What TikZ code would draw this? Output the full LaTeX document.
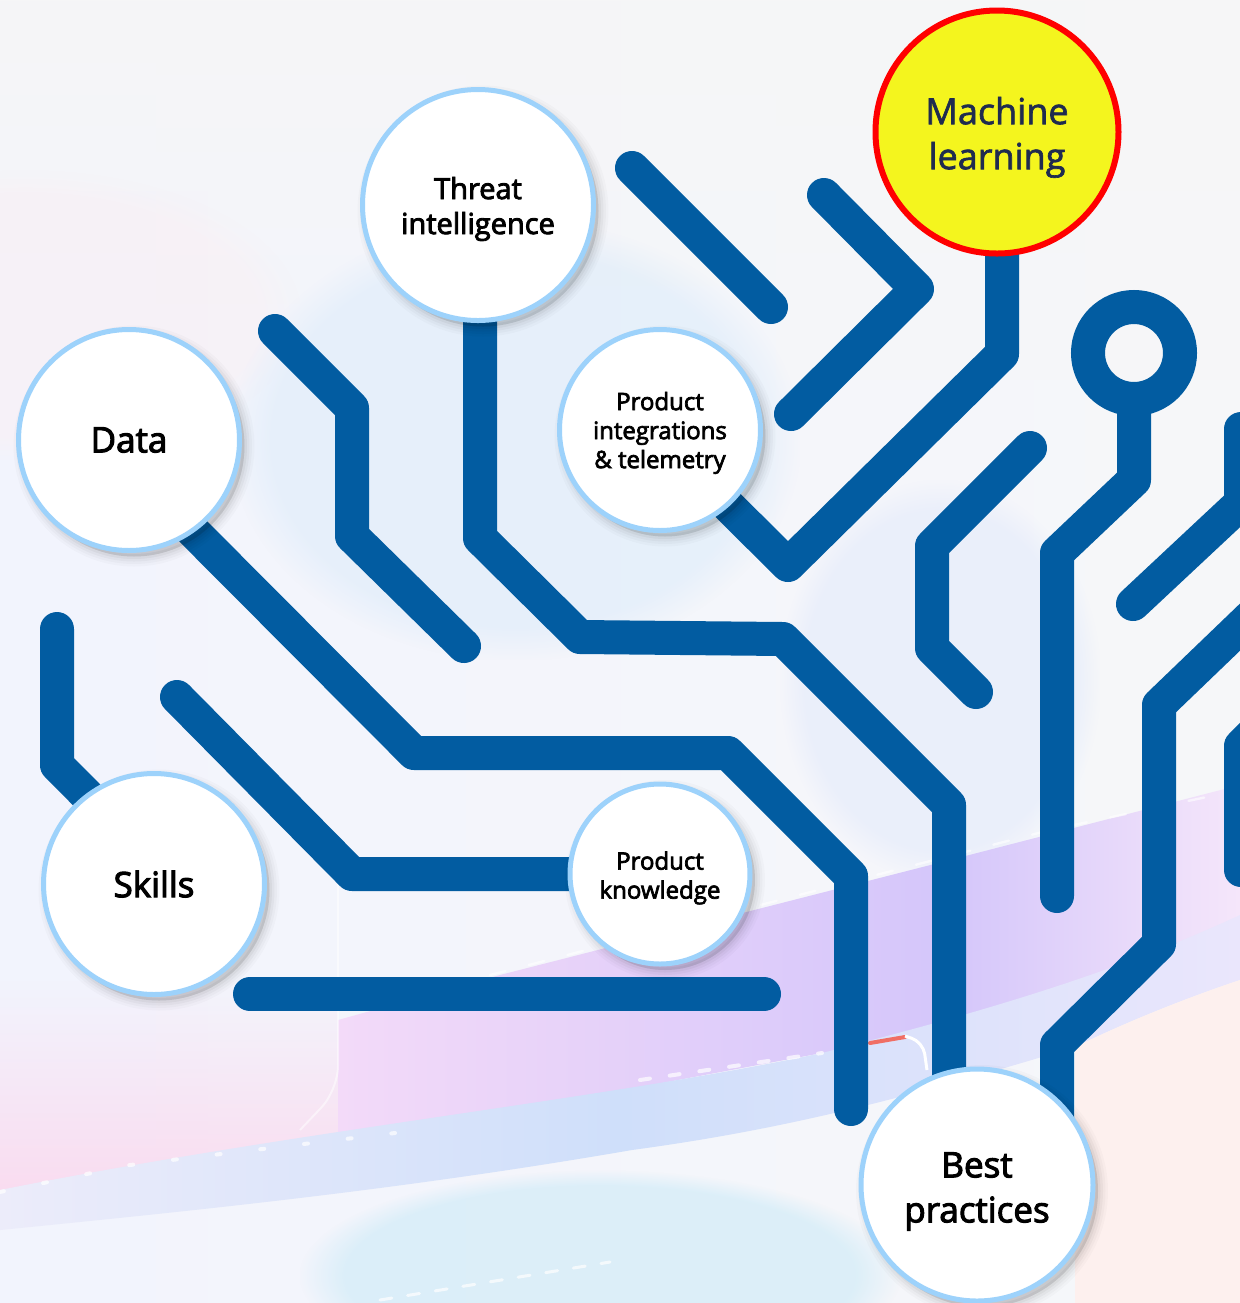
\documentclass[tikz,border=0pt]{standalone}
\usepackage{fontspec}
\setmainfont{Open Sans}
\newfontfamily\semi[FakeBold=3]{Open Sans}
\newfontfamily\medi[FakeBold=1.8]{Open Sans}
\usetikzlibrary{fadings}
\pgfdeclarelayer{back}\pgfdeclarelayer{wires}
\pgfsetlayers{back,wires,main}
\definecolor{wireblue}{HTML}{025CA1}
\definecolor{ringblue}{HTML}{9DD2FB}
\definecolor{mltext}{HTML}{1F2B4F}
\definecolor{mlfill}{HTML}{F4F51E}
\definecolor{bgl}{HTML}{F2F4FD}
\definecolor{bgr}{HTML}{F6F7F9}
\definecolor{top}{HTML}{F6F6F7}
\definecolor{warm}{HTML}{FAF0F4}
\definecolor{blobA}{HTML}{DEECFA}
\definecolor{blobB}{HTML}{E4EBFA}
\definecolor{pkB}{HTML}{F5E6FA}
\definecolor{pkC}{HTML}{D4C6FA}
\definecolor{pkE}{HTML}{FBD8EE}
\definecolor{pkF}{HTML}{F3DAF9}
\definecolor{blA}{HTML}{ECECFA}
\definecolor{blB}{HTML}{EAE6FC}
\definecolor{blC}{HTML}{CFDFFA}
\definecolor{peach}{HTML}{FDF0EE}
\definecolor{botblue}{HTML}{D2ECF8}
\definecolor{hot}{HTML}{F06E64}
\tikzset{
  wire/.style={draw=wireblue,line width=17pt,line cap=round,line join=round},
  softshadow/.style={
    preaction={draw=black,fill=black,opacity=.02,line width=10pt,transform canvas={shift={(2.5pt,-3pt)}}},
    preaction={draw=black,fill=black,opacity=.025,line width=7.5pt,transform canvas={shift={(2.5pt,-3pt)}}},
    preaction={draw=black,fill=black,opacity=.03,line width=5pt,transform canvas={shift={(2.5pt,-3pt)}}},
    preaction={draw=black,fill=black,opacity=.04,line width=2.5pt,transform canvas={shift={(2.5pt,-3pt)}}}},
  bubble/.style={circle,draw=ringblue,fill=white,line width=2.5pt,inner sep=0pt,outer sep=0pt,align=center,text=black,softshadow},
  big/.style={font=\semi\fontsize{17.5pt}{22.5pt}\selectfont},
  mid/.style={font=\semi\fontsize{14.5pt}{17.5pt}\selectfont},
  small/.style={font=\semi\fontsize{12pt}{14.5pt}\selectfont},
  blob/.style={path fading=circle with fuzzy edge 15 percent,fit fading=true},
}
\begin{document}
\begin{tikzpicture}[x=0.5pt,y=-0.5pt]
\useasboundingbox (0,0) rectangle (1240,1303);
\begin{pgfonlayer}{back}
\clip (0,0) rectangle (1240,1303);
% background
\shade[left color=bgl,right color=bgr] (0,0) rectangle (1240,1303);
\fill[top,path fading=south] (0,0) rectangle (1240,380);
\fill[warm,opacity=.5,blob] (-250,170) rectangle (300,460);
\fill[blobA,opacity=.6,blob] (230,220) rectangle (800,660);
\fill[blobB,opacity=.6,blob] (780,480) rectangle (1100,880);
% pink-purple band
\shade[left color=pkF,right color=pkC]
  (338,1020) -- (500,975) -- (950,860) -- (950,1040) -- (822,1053) -- (395,1133) -- (338,1145) -- cycle;
\shade[left color=pkC,right color=pkB]
  (950,860) -- (1240,785) -- (1240,930) -- (950,1040) -- cycle;
\fill[pkE,opacity=.85,path fading=north] (0,980) -- (338,980) -- (338,1145) -- (0,1190) -- cycle;
% blue band
\shade[left color=blA,right color=blB,middle color=blC]
  (0,1190) .. controls (300,1130) and (600,1100) .. (822,1053) .. controls (950,1020) and (1100,980) .. (1240,915)
  -- (1240,980) .. controls (1180,1000) and (1120,1025) .. (1075,1047)
  .. controls (900,1100) and (780,1130) .. (632,1150) .. controls (400,1190) and (200,1210) .. (0,1230) -- cycle;
% peach
\fill[peach] (1075,1047) .. controls (1120,1025) and (1180,1000) .. (1240,980) -- (1240,1303) -- (1075,1303) -- cycle;
% pale blue bottom
\fill[botblue,opacity=.7,blob] (300,1170) rectangle (900,1380);
% dotted light streaks
\draw[white,line width=2pt,line cap=round,dash pattern=on 2pt off 20pt,opacity=.7] (0,1192) -- (130,1165) -- (395,1133);
\draw[white,line width=2pt,line cap=round,dash pattern=on 5pt off 10pt,opacity=.7] (640,1080) -- (822,1053);
\draw[white,line width=1.2pt,line cap=round,dash pattern=on 8pt off 12pt,opacity=.6] (490,975) -- (1050,830) -- (1240,790);
\draw[white,line width=1.5pt,line cap=round,dash pattern=on 6pt off 8pt,opacity=.7] (380,1300) -- (610,1262);
\draw[white,line width=1pt,opacity=.5,rounded corners=12pt] (338,880) -- (338,1090) -- (300,1130);
\draw[hot,line width=2pt,line cap=round] (870,1043) -- (905,1037);
\draw[white,line width=1.5pt,rounded corners=6pt] (905,1036) -- (923,1042) -- (927,1070);
\end{pgfonlayer}

% nodes
\node[bubble,big,minimum size=110.5pt] (data) at (129,440) {Data};
\node[bubble,big,minimum size=110.5pt] (skills) at (154,884) {Skills};
\node[bubble,mid,minimum size=115.5pt] (threat) at (478,205) {\rule{0pt}{15pt}Threat\\intelligence};
\node[bubble,small,minimum size=100.5pt] (integ) at (660,430) {\rule{0pt}{12pt}Product\\integrations\\\&\ telemetry};
\node[bubble,small,minimum size=90pt] (know) at (660,874) {\rule{0pt}{13pt}Product\\knowledge};
\node[bubble,big,minimum size=116pt] (best) at (977,1185) {\rule{0pt}{19pt}Best\\practices};
\node[circle,draw=red,fill=mlfill,line width=3pt,inner sep=0pt,outer sep=0pt,minimum size=121.5pt,align=center,text=mltext,font=\medi\fontsize{18pt}{22.5pt}\selectfont] (ml) at (997,132) {\rule{0pt}{19pt}Machine\\learning};
\node[circle,draw=wireblue,line width=17pt,inner sep=0pt,outer sep=0pt,minimum size=46pt] (ring) at (1134,353) {};

% named corners and free ends
\coordinate (a1) at (480,538); \coordinate (a2) at (580,637); \coordinate (a3) at (783,639); \coordinate (a4) at (949,805);
\coordinate (b1) at (414,753); \coordinate (b2) at (728,753); \coordinate (b3) at (851,876); \coordinate (b4) at (851,1109);
\coordinate (c0) at (275,331); \coordinate (c1) at (352,408); \coordinate (c2) at (352,536); \coordinate (c3) at (464,646);
\coordinate (d0) at (632,168); \coordinate (d1) at (771,307);
\coordinate (e0) at (824,195); \coordinate (e1) at (917,289); \coordinate (e2) at (791,414);
\coordinate (f1) at (1002,354); \coordinate (f2) at (788,565);
\coordinate (g0) at (1030,448); \coordinate (g1) at (932,546); \coordinate (g2) at (932,648); \coordinate (g3) at (976,692);
\coordinate (h1) at (1134,480); \coordinate (h2) at (1057,553); \coordinate (h3) at (1057,896);
\coordinate (i0) at (1241,429); \coordinate (i1) at (1241,503); \coordinate (i2) at (1133,604);
\coordinate (j0) at (1262,606); \coordinate (j1) at (1159,705); \coordinate (j2) at (1159,944); \coordinate (j3) at (1057,1045);
\coordinate (k0) at (1265,722); \coordinate (k1) at (1241,746); \coordinate (k2) at (1241,870);
\coordinate (l0) at (57,629); \coordinate (l1) at (57,765);
\coordinate (m0) at (177,697); \coordinate (m1) at (352,874);
\coordinate (n0) at (250,994); \coordinate (n1) at (764,994);

\begin{pgfonlayer}{wires}
\begin{scope}
\clip (0,0) rectangle (1240,1303);
\draw[wire] (a1 |- threat.center) -- (a1) -- (a2) -- (a3) -- (a4) -- (a4 |- best.center);
\draw[wire] (data.-55) -- (b1) -- (b2) -- (b3) -- (b4);
\draw[wire] (c0) -- (c1) -- (c2) -- (c3);
\draw[wire] (d0) -- (d1);
\draw[wire] (e0) -- (e1) -- (e2);
\draw[wire] (f1 |- ml.center) -- (f1) -- (f2) -- (integ.-48);
\draw[wire] (g0) -- (g1) -- (g2) -- (g3);
\draw[wire] (ring.south) -- (h1) -- (h2) -- (h3);
\draw[wire] (i0) -- (i1) -- (i2);
\draw[wire] (j0) -- (j1) -- (j2) -- (j3) -- (j3 |- best.center);
\draw[wire] (k0) -- (k1) -- (k2);
\draw[wire] (l0) -- (l1) -- (skills.127);
\draw[wire] (m0) -- (m1) -- (m1 -| know.center);
\draw[wire] (n0) -- (n1);
\end{scope}
\end{pgfonlayer}
\end{tikzpicture}
\end{document}
